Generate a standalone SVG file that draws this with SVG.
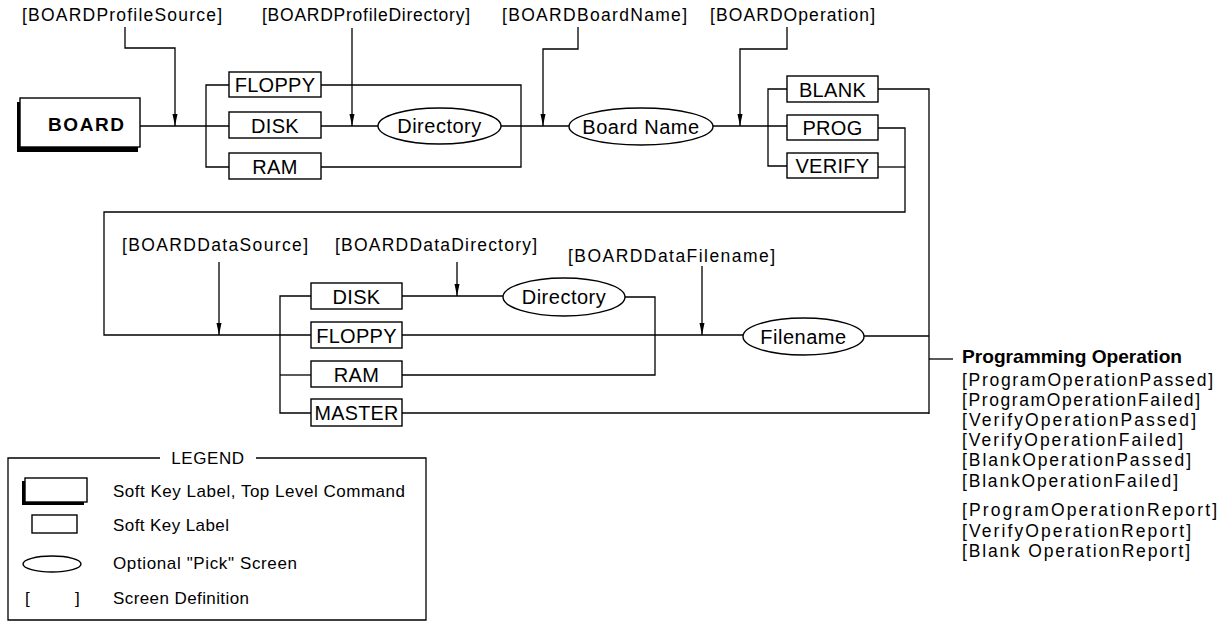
<svg xmlns="http://www.w3.org/2000/svg" width="1229" height="622" viewBox="0 0 1229 622">
  <style>
    text { font-family: "Liberation Sans", Arial, sans-serif; fill: #000; }
    .lbl { font-size: 17.5px; }
    .key { font-size: 20px; text-anchor: middle; letter-spacing: 0.3px; }
    .pick { font-size: 20px; text-anchor: middle; letter-spacing: 0.5px; }
    .box { fill: #fff; stroke: #000; stroke-width: 1.4; }
    .ell { fill: #fff; stroke: #000; stroke-width: 1.4; }
    .wire { fill: none; stroke: #000; stroke-width: 1.3; }
    .arw { fill: none; stroke: #000; stroke-width: 1.3; marker-end: url(#tip); }
    .leg { font-size: 17px; }
  </style>
  <defs>
    <marker id="tip" markerUnits="userSpaceOnUse" markerWidth="6" markerHeight="12" refX="3" refY="12" orient="0" viewBox="0 0 6 12">
      <path d="M0.5,0 L5.5,0 L3,12 z" fill="#000"/>
    </marker>
  </defs>
  <rect width="1229" height="622" fill="#fff"/>

  <!-- connectors -->
  <g id="connectors">
    <!-- top row -->
    <path class="wire" d="M140,126 H229"/>
    <path class="wire" d="M229,85 H206 V167 H229"/>
    <path class="wire" d="M321,85 H521 V167 H321"/>
    <path class="wire" d="M321,126 H378"/>
    <path class="wire" d="M501,126 H569"/>
    <path class="wire" d="M713,126 H787"/>
    <path class="wire" d="M787,89 H768 V166 H787"/>
    <path class="wire" d="M878,89 H929 V414"/>
    <path class="wire" d="M878,128 H905 V212 H104 V335 H311"/>
    <path class="wire" d="M878,167 H905"/>
    <!-- bottom row -->
    <path class="wire" d="M311,296 H280 V413 H311"/>
    <path class="wire" d="M280,375 H311"/>
    <path class="wire" d="M402,296 H503"/>
    <path class="wire" d="M625,297 H655 V375 H402"/>
    <path class="wire" d="M402,335 H743"/>
    <path class="wire" d="M864,336 H929"/>
    <path class="wire" d="M402,413 H929"/>
    <path class="wire" d="M929,359 H953"/>
    <!-- screen definition pointers -->
    <path class="arw" d="M125,27 V48 H175 V126"/>
    <path class="arw" d="M352,28 V126"/>
    <path class="arw" d="M578,27 V49 H543 V126"/>
    <path class="arw" d="M787,27 V49 H740 V126"/>
    <path class="arw" d="M219,262 V335"/>
    <path class="arw" d="M457,262 V296"/>
    <path class="arw" d="M702,266 V335"/>
  </g>

  <!-- screen definition labels -->
  <g id="labels">
    <text class="lbl" x="22" y="21" textLength="200" lengthAdjust="spacing">[BOARDProfileSource]</text>
    <text class="lbl" x="262" y="21" textLength="208" lengthAdjust="spacing">[BOARDProfileDirectory]</text>
    <text class="lbl" x="502" y="21" textLength="185" lengthAdjust="spacing">[BOARDBoardName]</text>
    <text class="lbl" x="710" y="21" textLength="165" lengthAdjust="spacing">[BOARDOperation]</text>
    <text class="lbl" x="122" y="251" textLength="186" lengthAdjust="spacing">[BOARDDataSource]</text>
    <text class="lbl" x="335" y="251" textLength="202" lengthAdjust="spacing">[BOARDDataDirectory]</text>
    <text class="lbl" x="568" y="262" textLength="207" lengthAdjust="spacing">[BOARDDataFilename]</text>
  </g>

  <!-- top level command -->
  <g id="board">
    <rect x="17" y="102" width="121" height="50" fill="#000"/>
    <rect class="box" x="20" y="98" width="120" height="49"/>
    <text x="86" y="131" font-size="19" font-weight="bold" text-anchor="middle" textLength="76" lengthAdjust="spacing">BOARD</text>
  </g>

  <!-- profile source keys -->
  <g id="profile-floppy">
    <rect class="box" x="229" y="72" width="92" height="25"/>
    <text class="key" x="275" y="92">FLOPPY</text>
  </g>
  <g id="profile-disk">
    <rect class="box" x="229" y="112" width="92" height="26"/>
    <text class="key" x="275" y="132.5">DISK</text>
  </g>
  <g id="profile-ram">
    <rect class="box" x="229" y="153" width="92" height="26"/>
    <text class="key" x="275" y="173.5">RAM</text>
  </g>

  <g id="profile-directory">
    <ellipse class="ell" cx="439.5" cy="126" rx="61.5" ry="18"/>
    <text class="pick" x="439.5" y="133">Directory</text>
  </g>
  <g id="board-name">
    <ellipse class="ell" cx="641" cy="126.5" rx="72" ry="18.5"/>
    <text class="pick" x="641" y="133.5">Board Name</text>
  </g>

  <!-- operation keys -->
  <g id="op-blank">
    <rect class="box" x="787" y="76" width="91" height="26"/>
    <text class="key" x="832.5" y="96.5">BLANK</text>
  </g>
  <g id="op-prog">
    <rect class="box" x="787" y="115" width="91" height="25"/>
    <text class="key" x="832.5" y="135">PROG</text>
  </g>
  <g id="op-verify">
    <rect class="box" x="787" y="153" width="91" height="25"/>
    <text class="key" x="832.5" y="173">VERIFY</text>
  </g>

  <!-- data source keys -->
  <g id="data-disk">
    <rect class="box" x="311" y="283" width="91" height="26"/>
    <text class="key" x="356.5" y="303.5">DISK</text>
  </g>
  <g id="data-floppy">
    <rect class="box" x="311" y="322" width="91" height="26"/>
    <text class="key" x="356.5" y="342.5">FLOPPY</text>
  </g>
  <g id="data-ram">
    <rect class="box" x="311" y="361" width="91" height="26"/>
    <text class="key" x="356.5" y="381.5">RAM</text>
  </g>
  <g id="data-master">
    <rect class="box" x="311" y="399" width="91" height="27"/>
    <text class="key" x="356.5" y="420" textLength="84" lengthAdjust="spacingAndGlyphs">MASTER</text>
  </g>

  <g id="data-directory">
    <ellipse class="ell" cx="564" cy="297" rx="61" ry="19"/>
    <text class="pick" x="564" y="304">Directory</text>
  </g>
  <g id="data-filename">
    <ellipse class="ell" cx="803.5" cy="336.5" rx="60.5" ry="18.5"/>
    <text class="pick" x="803.5" y="343.5">Filename</text>
  </g>

  <!-- result screens -->
  <g id="programming-operation">
    <text x="962" y="363" font-size="19" font-weight="bold" textLength="220" lengthAdjust="spacingAndGlyphs">Programming Operation</text>
    <text class="lbl" x="962" y="386" textLength="251" lengthAdjust="spacing">[ProgramOperationPassed]</text>
    <text class="lbl" x="962" y="406" textLength="238" lengthAdjust="spacing">[ProgramOperationFailed]</text>
    <text class="lbl" x="962" y="426" textLength="234" lengthAdjust="spacing">[VerifyOperationPassed]</text>
    <text class="lbl" x="962" y="446" textLength="221" lengthAdjust="spacing">[VerifyOperationFailed]</text>
    <text class="lbl" x="962" y="466" textLength="229" lengthAdjust="spacing">[BlankOperationPassed]</text>
    <text class="lbl" x="962" y="487" textLength="216" lengthAdjust="spacing">[BlankOperationFailed]</text>
    <text class="lbl" x="962" y="516" textLength="255" lengthAdjust="spacing">[ProgramOperationReport]</text>
    <text class="lbl" x="962" y="537" textLength="229" lengthAdjust="spacing">[VerifyOperationReport]</text>
    <text class="lbl" x="962" y="557" textLength="228" lengthAdjust="spacing">[Blank OperationReport]</text>
  </g>

  <!-- legend -->
  <g id="legend">
    <path class="wire" d="M160,458 H8 V620 H426 V458 H256"/>
    <text class="leg" x="208" y="464" text-anchor="middle" letter-spacing="0.6">LEGEND</text>
    <rect x="22" y="481" width="62" height="24" fill="#000"/>
    <rect class="box" x="25" y="478" width="62" height="24"/>
    <text class="leg" x="113" y="497" textLength="292" lengthAdjust="spacing">Soft Key Label, Top Level Command</text>
    <rect class="box" x="32" y="515" width="45" height="18"/>
    <text class="leg" x="113" y="531" textLength="116" lengthAdjust="spacing">Soft Key Label</text>
    <ellipse class="ell" cx="52" cy="564" rx="29" ry="8"/>
    <text class="leg" x="113" y="569" textLength="184" lengthAdjust="spacing">Optional "Pick" Screen</text>
    <text class="leg" x="25" y="604">[</text>
    <text class="leg" x="75" y="604">]</text>
    <text class="leg" x="113" y="604" textLength="136" lengthAdjust="spacing">Screen Definition</text>
  </g>
</svg>
